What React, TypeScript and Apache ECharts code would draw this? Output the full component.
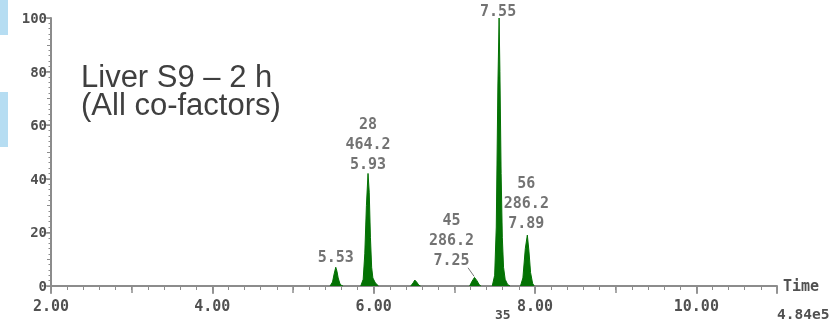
import React, { useEffect, useRef } from 'react';
import * as echarts from 'echarts';

// Chromatogram trace: [retention time (min), relative abundance (%)]
const peak553: [number, number][] = [
  [5.46, 0], [5.49, 1.5], [5.51, 4.5], [5.53, 7], [5.545, 5.5], [5.56, 3], [5.58, 1], [5.6, 0.2], [5.62, 0],
];
const peak593: [number, number][] = [
  [5.84, 0], [5.87, 2.5], [5.89, 12], [5.91, 30], [5.93, 42], [5.945, 35], [5.96, 18], [5.975, 7], [5.99, 3], [6.02, 1.2], [6.06, 0],
];
const peak651: [number, number][] = [
  [6.46, 0], [6.49, 1.2], [6.51, 2.2], [6.53, 1.6], [6.56, 0.3], [6.58, 0],
];
const peak725: [number, number][] = [
  [7.19, 0], [7.22, 1.8], [7.25, 3.2], [7.28, 2], [7.31, 0.4], [7.33, 0],
];
const peak755: [number, number][] = [
  [7.47, 0], [7.5, 4], [7.52, 22], [7.54, 75], [7.555, 100], [7.565, 80], [7.58, 42], [7.595, 18], [7.61, 7], [7.63, 2.5], [7.66, 0.6], [7.69, 0],
];
const peak789: [number, number][] = [
  [7.82, 0], [7.85, 3], [7.88, 14], [7.905, 19], [7.925, 13], [7.945, 5], [7.97, 1], [7.99, 0],
];
const peaks = [peak553, peak593, peak651, peak725, peak755, peak789];

// Peak annotations
const annotRT = [7.555, 5.93, 5.53, 7.25, 7.905];
const annotHeight = [100, 42, 7, 3.2, 19];
const annotText = ['7.55', '28\n464.2\n5.93', '5.53', '45\n286.2\n7.25', '56\n286.2\n7.89'];
const leaderLine: [number, number][] = [[7.17, 6.8], [7.245, 3.6]];

// Axes
const xMin = 2;
const xMax = 11;
const xStep = 2;
const yMin = 0;
const yMax = 100;
const yStep = 20;
const xAxisName = 'Time';
const scaleText = '4.84e5';
const scanText = '35';
const titleLines = ['Liver S9 \u2013 2 h', '(All co-factors)'];

const GREEN = '#047204';
const AXIS = '#8c8c8c';
const TXT = '#505050';
const MONO = '"DejaVu Sans Mono", "Liberation Mono", monospace';

const labelLayout: Record<number, { distance: number; offset: [number, number] }> = {
  0: { distance: -3, offset: [-1, 0] },
  1: { distance: -1, offset: [0, 0] },
  2: { distance: 0, offset: [0, 0] },
  3: { distance: 7.5, offset: [-23, 0] },
  4: { distance: 2, offset: [-1, 0] },
};

export default function App() {
  const ref = useRef<HTMLDivElement>(null);
  useEffect(() => {
    if (!ref.current) return;
    const chart = echarts.init(ref.current, null, { renderer: 'svg' });

    const xBase = {
      type: 'value',
      min: xMin,
      max: xMax,
      position: 'bottom',
      offset: 0,
      splitLine: { show: false },
      axisLabel: { show: false },
      axisLine: { show: false },
    };
    const yBase = {
      type: 'value',
      min: yMin,
      max: yMax,
      position: 'left',
      offset: 0,
      splitLine: { show: false },
      axisLabel: { show: false },
      axisLine: { show: false },
    };

    const peakSeries = peaks.map((p) => ({
      type: 'line',
      data: p,
      symbol: 'none',
      xAxisIndex: 0,
      yAxisIndex: 0,
      lineStyle: { color: GREEN, width: 1 },
      areaStyle: { color: GREEN, opacity: 1 },
      z: 3,
      silent: true,
    }));

    chart.setOption({
      animation: false,
      grid: { left: 51, right: 55, top: 18, bottom: 35 },
      xAxis: [
        {
          ...xBase,
          interval: xStep,
          axisLine: { show: true, lineStyle: { color: AXIS, width: 2 } },
          axisTick: { show: true, length: 8, lineStyle: { color: AXIS, width: 1.5 } },
          axisLabel: {
            show: true,
            margin: 12,
            fontFamily: MONO,
            fontSize: 15,
            fontWeight: 'bold',
            color: TXT,
            formatter: (v: number) => (v === xMax ? '' : v.toFixed(2)),
          },
          name: xAxisName,
          nameLocation: 'end',
          nameGap: 6,
          nameTextStyle: {
            fontFamily: MONO,
            fontSize: 15,
            fontWeight: 'bold',
            color: TXT,
            align: 'left',
            verticalAlign: 'middle',
            padding: [5, 0, 0, 0],
          },
        },
        { ...xBase, interval: 1, axisTick: { show: true, length: 7, lineStyle: { color: AXIS, width: 1.5 } } },
        { ...xBase, interval: 0.2, axisTick: { show: true, length: 4, lineStyle: { color: AXIS, width: 1 } } },
      ],
      yAxis: [
        {
          ...yBase,
          interval: yStep,
          axisLine: { show: true, lineStyle: { color: AXIS, width: 2 } },
          axisTick: { show: true, length: 6, lineStyle: { color: AXIS, width: 1.5 } },
          axisLabel: {
            show: true,
            margin: 4,
            fontFamily: MONO,
            fontSize: 14,
            fontWeight: 'bold',
            color: TXT,
          },
        },
        { ...yBase, interval: 10, axisTick: { show: true, length: 4, lineStyle: { color: AXIS, width: 1 } } },
        { ...yBase, interval: 2, axisTick: { show: true, length: 2.5, lineStyle: { color: AXIS, width: 1 } } },
      ],
      series: [
        ...peakSeries,
        {
          type: 'line',
          data: leaderLine,
          symbol: 'none',
          lineStyle: { color: '#777', width: 1 },
          z: 4,
          silent: true,
        },
        {
          type: 'scatter',
          symbolSize: 0,
          silent: true,
          z: 5,
          data: annotRT.map((rt, i) => ({
            value: [rt, annotHeight[i]],
            label: {
              show: true,
              position: 'top',
              distance: labelLayout[i].distance,
              offset: labelLayout[i].offset,
              formatter: annotText[i],
              fontFamily: MONO,
              fontSize: 15,
              fontWeight: 'bold',
              lineHeight: 20,
              color: TXT,
              align: 'center',
            },
          })),
        },
      ],
      graphic: [
        { type: 'rect', shape: { x: 0, y: 0, width: 8, height: 35 }, style: { fill: '#b6ddf2' } },
        { type: 'rect', shape: { x: 0, y: 92, width: 8, height: 55 }, style: { fill: '#b6ddf2' } },
        ...titleLines.map((t, i) => ({
          type: 'text',
          x: 81,
          y: 62 + i * 28.5,
          style: {
            text: t,
            font: '31px "Liberation Sans", Arial, sans-serif',
            lineHeight: 28,
            fill: '#3f3f3f',
            textVerticalAlign: 'top',
          },
        })),
        {
          type: 'text',
          x: 777,
          y: 306,
          style: { text: scaleText, font: `bold 14.5px ${MONO}`, fill: TXT, textVerticalAlign: 'top' },
        },
        {
          type: 'text',
          x: 495,
          y: 308,
          style: { text: scanText, font: `bold 13px ${MONO}`, fill: TXT, textVerticalAlign: 'top' },
        },
      ],
    });
    return () => chart.dispose();
  }, []);

  return <div ref={ref} style={{ position: 'fixed', left: 0, top: 0, width: 832, height: 321 }} />;
}
